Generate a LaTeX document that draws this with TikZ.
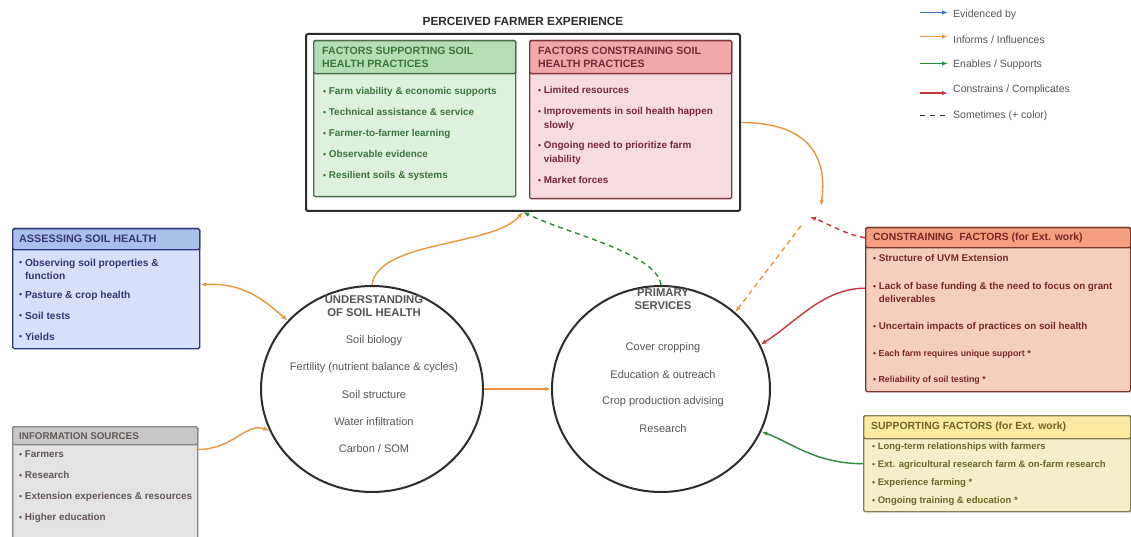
\documentclass[tikz,border=0pt]{standalone}
\usepackage{fontspec}
\setmainfont{Liberation Sans}
\usetikzlibrary{arrows.meta,shapes.geometric,calc}

% connector colours
\definecolor{cOrange}{RGB}{232,150,62}
\definecolor{cGreen}{RGB}{44,138,56}
\definecolor{cRed}{RGB}{198,52,64}
\definecolor{cBlue}{RGB}{52,112,192}
\definecolor{cLine}{RGB}{45,45,45}
\definecolor{cGray}{RGB}{85,85,85}
% box palettes: border, header, body, text
\definecolor{gBord}{RGB}{75,110,75}
\definecolor{gHead}{RGB}{182,222,182}
\definecolor{gBody}{RGB}{222,240,222}
\definecolor{gText}{RGB}{60,118,60}
\definecolor{rBord}{RGB}{130,55,60}
\definecolor{rHead}{RGB}{240,168,170}
\definecolor{rBody}{RGB}{246,220,222}
\definecolor{rText}{RGB}{120,40,55}
\definecolor{bBord}{RGB}{45,55,130}
\definecolor{bHead}{RGB}{170,192,232}
\definecolor{bBody}{RGB}{214,224,250}
\definecolor{bText}{RGB}{55,55,115}
\definecolor{iBord}{RGB}{135,135,135}
\definecolor{iHead}{RGB}{200,198,198}
\definecolor{iBody}{RGB}{227,227,227}
\definecolor{iText}{RGB}{100,88,88}
\definecolor{oBord}{RGB}{120,55,45}
\definecolor{oHead}{RGB}{245,158,128}
\definecolor{oBody}{RGB}{246,206,192}
\definecolor{oText}{RGB}{120,40,40}
\definecolor{yBord}{RGB}{135,125,85}
\definecolor{yHead}{RGB}{250,235,160}
\definecolor{yBody}{RGB}{244,239,200}
\definecolor{yText}{RGB}{110,102,40}

\newcommand{\bul}{\raisebox{0.05ex}{\fontsize{8.5}{8.5}\selectfont\textbullet}\ }
\newcommand{\hang}{\hphantom{\bul}}

\begin{document}
\begin{tikzpicture}[x=1pt,y=-1pt,
  conn/.style={line width=1.4pt,-{Latex[length=6pt,width=4.5pt]}},
  dsh/.style={dash pattern=on 5pt off 4pt},
  frame/.style={draw=cLine,line width=2pt,fill=white,anchor=north west,inner sep=0,rounded corners=1.5pt},
  box/.style={draw,line width=1.4pt,anchor=north west,inner sep=0,rounded corners=1.5pt},
  htext/.style={anchor=west,align=left,inner sep=0,font=\bfseries\fontsize{10.6}{12.5}\selectfont},
  btext/.style={anchor=north west,align=left,inner sep=0,font=\bfseries\fontsize{9.9}{14}\selectfont},
  ell/.style={ellipse,draw=cLine,line width=2pt,inner sep=0},
  ctitle/.style={align=center,inner sep=0,text=cGray,font=\bfseries\fontsize{11.3}{13}\selectfont},
  ctext/.style={inner sep=0,text=cGray,font=\fontsize{11}{13}\selectfont},
  legtext/.style={anchor=west,inner sep=0,text=cGray,font=\fontsize{10.5}{12}\selectfont}]

\fill[white] (0,0) rectangle (1131,537);
\useasboundingbox (0,0) rectangle (1131,537);
\clip (0,0) rectangle (1131,537);

% ---------- perceived farmer experience ----------
\node[inner sep=0,text=cLine,font=\bfseries\fontsize{11.8}{13}\selectfont] (ttl) at (523,21) {PERCEIVED FARMER EXPERIENCE};
\node[frame,minimum width=434,minimum height=177] (outer) at (305,33) {};

\node[box,draw=gBord,fill=gBody,minimum width=202,minimum height=156] (gs) at (313,40) {};
\node[box,draw=gBord,fill=gHead,minimum width=202,minimum height=33] (gsh) at (313,40) {};
\node[htext,text=gText] (gsht) at ($(gsh.west)+(9,0)$) {FACTORS SUPPORTING SOIL\\HEALTH PRACTICES};
\node[btext,text=gText] (gsb) at (323,87.5) {\bul Farm viability \& economic supports\\[7pt]
  \bul Technical assistance \& service\\[7pt]
  \bul Farmer-to-farmer learning\\[7pt]
  \bul Observable evidence\\[7pt]
  \bul Resilient soils \& systems};

\node[box,draw=rBord,fill=rBody,minimum width=202,minimum height=158] (rs) at (529,40) {};
\node[box,draw=rBord,fill=rHead,minimum width=202,minimum height=33] (rsh) at (529,40) {};
\node[htext,text=rText] (rsht) at ($(rsh.west)+(9,0)$) {FACTORS CONSTRAINING SOIL\\HEALTH PRACTICES};
\node[btext,text=rText] (rsb) at (538,86.5) {\bul Limited resources\\[7pt]
  \bul Improvements in soil health happen\\\hang slowly\\[6pt]
  \bul Ongoing need to prioritize farm\\\hang viability\\[7pt]
  \bul Market forces};

% ---------- legend ----------
\node[legtext] (l1) at (953,14.5) {Evidenced by};
\node[legtext] (l2) at (953,39.5) {Informs / Influences};
\node[legtext] (l3) at (953,64.5) {Enables / Supports};
\node[legtext] (l4) at (953,90) {Constrains / Complicates};
\node[legtext] (l5) at (953,115.5) {Sometimes (+ color)};
\draw[conn,cBlue]   ($(l1.west)+(-33,-2)$) -- ($(l1.west)+(-5,-2)$);
\draw[conn,cOrange] ($(l2.west)+(-33,-3)$) -- ($(l2.west)+(-5,-3)$);
\draw[conn,cGreen]  ($(l3.west)+(-33,-1)$) -- ($(l3.west)+(-5,-1)$);
\draw[conn,cRed]    ($(l4.west)+(-33,3)$) -- ($(l4.west)+(-5,3)$);
\draw[line width=1.6pt,cLine,dash pattern=on 5pt off 5pt] ($(l5.west)+(-33,0)$) -- ($(l5.west)+(-4,0)$);

% ---------- assessing soil health ----------
\node[box,draw=bBord,fill=bBody,minimum width=187,minimum height=120] (as) at (12,228) {};
\node[box,draw=bBord,fill=bHead,minimum width=187,minimum height=21] (ash) at (12,228) {};
\node[htext,text=bText,font=\bfseries\fontsize{10.8}{12}\selectfont] (asht) at ($(ash.west)+(7,0)$) {ASSESSING SOIL HEALTH};
\node[btext,text=bText,font=\bfseries\fontsize{10.2}{13}\selectfont] (asb) at (19,258.5) {\bul Observing soil properties \&\\\hang function\\[6pt]
  \bul Pasture \& crop health\\[8pt]
  \bul Soil tests\\[8pt]
  \bul Yields};

% ---------- information sources ----------
\node[box,draw=iBord,fill=iBody,minimum width=185,minimum height=140] (ib) at (12,426) {};
\node[box,draw=iBord,fill=iHead,minimum width=185,minimum height=18] (ibh) at (12,426) {};
\node[htext,text=iText,font=\bfseries\fontsize{9.8}{11}\selectfont] (ibht) at ($(ibh.west)+(7,0)$) {INFORMATION SOURCES};
\node[btext,text=iText,font=\bfseries\fontsize{9.9}{21}\selectfont] (ibb) at (19,450.5) {\bul Farmers\\
  \bul Research\\
  \bul Extension experiences \& resources\\
  \bul Higher education};

% ---------- constraining factors ----------
\node[box,draw=oBord,fill=oBody,minimum width=265,minimum height=164] (cf) at (865,227) {};
\node[box,draw=oBord,fill=oHead,minimum width=265,minimum height=20] (cfh) at (865,227) {};
\node[htext,text=oText,font=\bfseries\fontsize{10.4}{12}\selectfont] (cfht) at ($(cfh.west)+(8,0)$) {CONSTRAINING\ \ FACTORS (for Ext. work)};
\node[btext,text=oText,font=\bfseries\fontsize{9.8}{13}\selectfont] (cfb) at (873,254.5) {\bul Structure of UVM Extension\\[15pt]
  \bul Lack of base funding \& the need to focus on grant\\\hang deliverables\\[14pt]
  \bul Uncertain impacts of practices on soil health\\[14pt]
  {\fontsize{8.8}{13}\selectfont\bul Each farm requires unique support *}\\[13pt]
  {\fontsize{8.8}{13}\selectfont\bul Reliability of soil testing *}};

% ---------- supporting factors ----------
\node[box,draw=yBord,fill=yBody,minimum width=267,minimum height=96] (sf) at (863,415) {};
\node[box,draw=yBord,fill=yHead,minimum width=267,minimum height=23] (sfh) at (863,415) {};
\node[htext,text=yText,font=\bfseries\fontsize{10.4}{12}\selectfont] (sfht) at ($(sfh.west)+(8,0)$) {SUPPORTING FACTORS (for Ext. work)};
\node[btext,text=yText,font=\bfseries\fontsize{9.5}{18}\selectfont] (sfb) at (872,442.5) {\bul Long-term relationships with farmers\\
  \bul Ext. agricultural research farm \& on-farm research\\
  \bul Experience farming *\\
  \bul Ongoing training \& education *};

% ---------- understanding of soil health ----------
\node[ell,minimum width=222,minimum height=206] (c1) at (372,389) {};
\node[ctitle] (c1t) at (374,306.5) {UNDERSTANDING\\OF SOIL HEALTH};
\node[ctext] (c1a) at (374,341) {Soil biology};
\node[ctext] (c1b) at (374,368) {Fertility (nutrient balance \& cycles)};
\node[ctext] (c1c) at (374,395) {Soil structure};
\node[ctext] (c1d) at (374,422) {Water infiltration};
\node[ctext] (c1e) at (374,449) {Carbon / SOM};

% ---------- primary services ----------
\node[ell,minimum width=218,minimum height=206] (c2) at (661,389) {};
\node[ctitle] (c2t) at (663,299.5) {PRIMARY\\SERVICES};
\node[ctext] (c2a) at (663,348) {Cover cropping};
\node[ctext] (c2b) at (663,375) {Education \& outreach};
\node[ctext] (c2c) at (663,402) {Crop production advising};
\node[ctext] (c2d) at (663,429) {Research};

% ---------- connectors ----------
\coordinate (jo) at (821,206);
\coordinate (jr) at (810,217);
\coordinate (jd) at (801,226);

\draw[conn,cOrange] (c1.north) .. controls +(6,-45) and +(-30,35) .. (outer.south);
\draw[conn,cGreen,dsh] (c2.north) .. controls +(-4,-32) and +(45,22) .. (outer.south);
\draw[conn,cOrange] (outer.east) .. controls +(58,0) and +(8,-58) .. (jo);
\draw[conn,cRed,dsh] (cfh.west) .. controls +(-20,-3) and +(15,5) .. (jr);
\draw[conn,cOrange,dsh] (jd) -- (c2.46);
\draw[conn,cRed] ($(cf.north west)!0.37!(cf.south west)$) .. controls +(-42,0) and +(35,-22) .. (c2.24);
\draw[conn,cGreen] (sf.west) .. controls +(-48,0) and +(28,10) .. (c2.-23);
\draw[line width=1.4pt,cOrange,{Latex[length=6pt,width=4.5pt]}-{Latex[length=6pt,width=4.5pt]}] ($(as.east)+(0,-4)$) .. controls +(42,-2) and +(-25,-22) .. (c1.141);
\draw[conn,cOrange] ($(ibh.south east)+(0,4)$) .. controls +(35,0) and +(-24,-8) .. (c1.202);
\draw[conn,cOrange] (c1.east) -- (c2.west);

\end{tikzpicture}
\end{document}
